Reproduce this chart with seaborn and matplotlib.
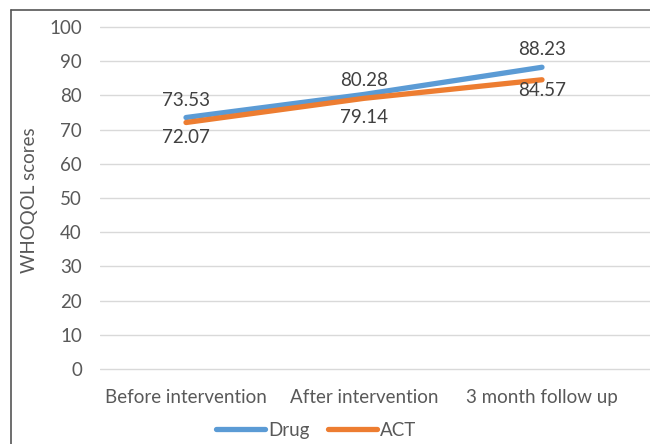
import matplotlib
matplotlib.use("Agg")
import matplotlib.pyplot as plt
from matplotlib.lines import Line2D
import seaborn as sns
import pandas as pd

# Data
timepoints = ["Before intervention", "After intervention", "3 month follow up"]
drug_scores = [73.53, 80.28, 88.23]
act_scores = [72.07, 79.14, 84.57]
series_names = ["Drug", "ACT"]
y_ticks = [0, 10, 20, 30, 40, 50, 60, 70, 80, 90, 100]

sns.set_theme(style="white")
plt.rcParams["font.family"] = ["Lato", "DejaVu Sans"]

TEXT = "#595959"
GRID = "#D9D9D9"
FS = 13.5
colors = {"Drug": "#5B9BD5", "ACT": "#ED7D31"}

df = pd.DataFrame({
    "timepoint": timepoints * 2,
    "x": list(range(len(timepoints))) * 2,
    "score": drug_scores + act_scores,
    "group": ["Drug"] * 3 + ["ACT"] * 3,
})

W, H = 650, 444
fig = plt.figure(figsize=(W / 100, H / 100), dpi=100)
fig.patch.set_facecolor("white")

# plot area in pixels: left 100, right 650, top 27 (value 100), bottom 369 (value 0)
px_per_unit = (369 - 27) / 100
pad_units = 1.0
top_px = 27 - pad_units * px_per_unit
bot_px = 369 + pad_units * px_per_unit
ax = fig.add_axes([100 / W, 1 - bot_px / H, (W - 100) / W, (bot_px - top_px) / H])

sns.lineplot(data=df, x="x", y="score", hue="group", hue_order=series_names,
             palette=colors, linewidth=3.8, ax=ax, legend=False,
             solid_capstyle="round")

# category spacing ~178 px, center category at x=364 px
spacing = 178
ax.set_xlim((100 - 364) / spacing + 1, (W - 364) / spacing + 1)
ax.set_ylim(-pad_units, 100 + pad_units)

ax.set_yticks(y_ticks)
ax.set_xticks(range(len(timepoints)))
ax.set_xticklabels(timepoints)
for y in y_ticks:
    ax.axhline(y, color=GRID, linewidth=1.0, zorder=0)

for s in ax.spines.values():
    s.set_visible(False)
ax.tick_params(axis="both", length=0, labelsize=FS, colors=TEXT)
ax.tick_params(axis="y", pad=13)
ax.tick_params(axis="x", pad=12)
ax.set_xlabel("")
ax.set_ylabel("")
fig.text(30 / W, 1 - 200 / H, "WHOQOL scores", rotation=90, ha="center",
         va="center", color=TEXT, fontsize=FS)

# value labels: Drug above, ACT below
label_offsets = {
    "Drug": [12, 10, 13],
    "ACT": [-11, -14, -8],
}
for name, vals in (("Drug", drug_scores), ("ACT", act_scores)):
    for i, v in enumerate(vals):
        off = label_offsets[name][i]
        ax.annotate(f"{v:.2f}", (i, v), xytext=(0, off), textcoords="offset points",
                    ha="center", va="center", fontsize=FS, color="#404040")

handles = [Line2D([0], [0], color=colors[n], linewidth=3.8, solid_capstyle="round")
           for n in series_names]
leg = fig.legend(handles, series_names, loc="center", bbox_to_anchor=(316 / W, 1 - 430 / H),
                 ncol=2, frameon=False, fontsize=FS, handlelength=2.6,
                 handletextpad=0.15, columnspacing=1.0)
for t in leg.get_texts():
    t.set_color(TEXT)

# outer frame (left and top edges visible)
fig.add_artist(Line2D([11 / W, 11 / W], [0, 1 - 10 / H], transform=fig.transFigure,
                      color="#555555", linewidth=1.2))
fig.add_artist(Line2D([11 / W, 1], [1 - 10 / H, 1 - 10 / H], transform=fig.transFigure,
                      color="#555555", linewidth=1.2))

fig.savefig("out.png", dpi=100, facecolor="white")
